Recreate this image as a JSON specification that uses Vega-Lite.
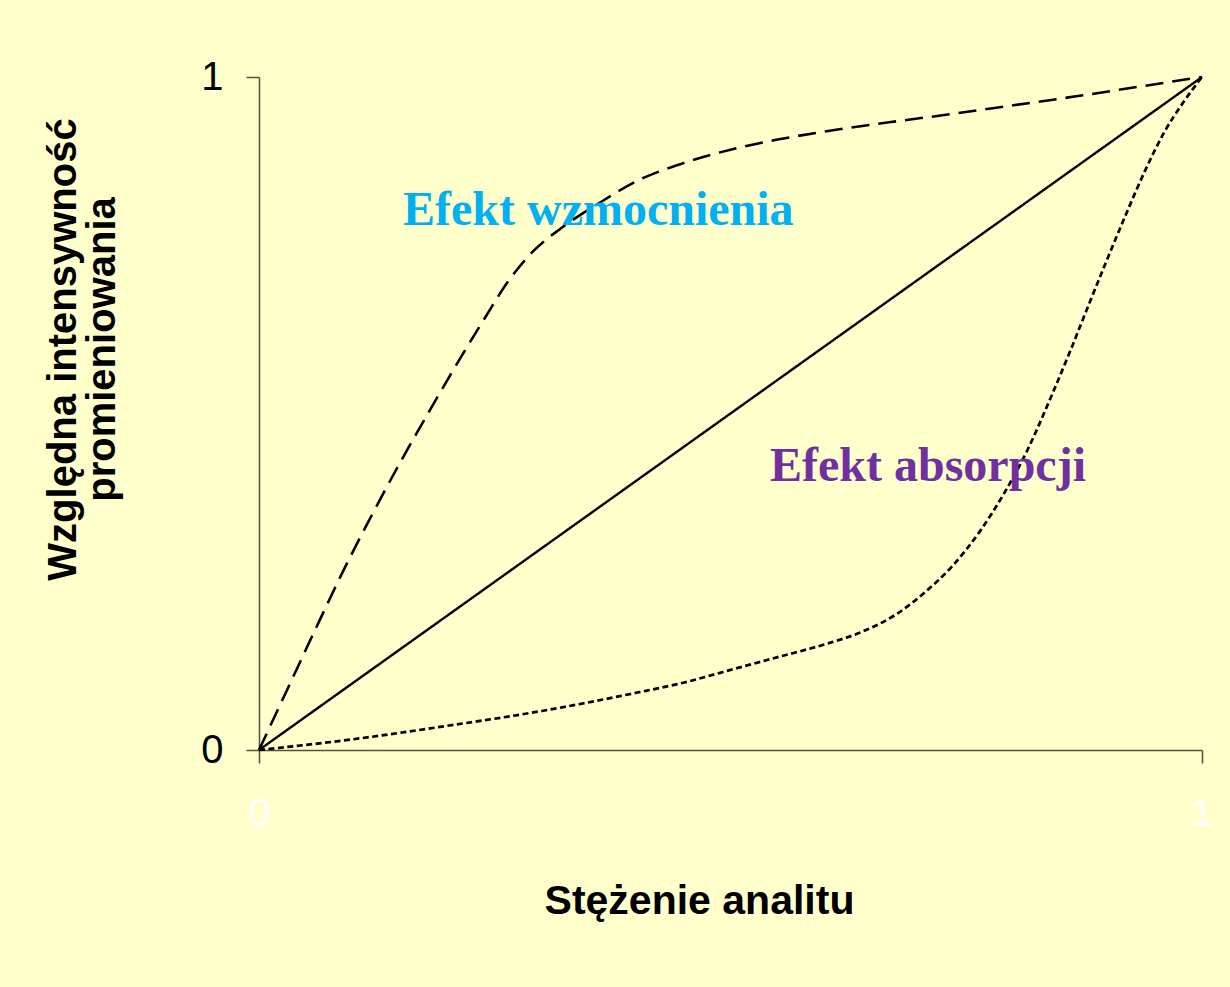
{
  "$schema": "https://vega.github.io/schema/vega-lite/v6.json",
  "width": 943,
  "height": 673,
  "autosize": {"type": "none"},
  "padding": {"left": 259, "top": 77, "right": 28, "bottom": 237},
  "background": "#FFFFCC",
  "config": {"view": {"stroke": null}, "font": "Liberation Sans"},
  "datasets": {
    "curves": [
      {"series": "liniowa", "c": 0, "i": 0},
      {"series": "liniowa", "c": 1, "i": 1},

      {"series": "wzmocnienie", "c": 0, "i": 0},
      {"series": "wzmocnienie", "c": 0.03, "i": 0.090},
      {"series": "wzmocnienie", "c": 0.06, "i": 0.180},
      {"series": "wzmocnienie", "c": 0.09, "i": 0.268},
      {"series": "wzmocnienie", "c": 0.12, "i": 0.350},
      {"series": "wzmocnienie", "c": 0.15, "i": 0.428},
      {"series": "wzmocnienie", "c": 0.18, "i": 0.502},
      {"series": "wzmocnienie", "c": 0.21, "i": 0.574},
      {"series": "wzmocnienie", "c": 0.24, "i": 0.643},
      {"series": "wzmocnienie", "c": 0.265, "i": 0.698},
      {"series": "wzmocnienie", "c": 0.29, "i": 0.740},
      {"series": "wzmocnienie", "c": 0.32, "i": 0.775},
      {"series": "wzmocnienie", "c": 0.36, "i": 0.812},
      {"series": "wzmocnienie", "c": 0.40, "i": 0.845},
      {"series": "wzmocnienie", "c": 0.45, "i": 0.872},
      {"series": "wzmocnienie", "c": 0.50, "i": 0.892},
      {"series": "wzmocnienie", "c": 0.55, "i": 0.907},
      {"series": "wzmocnienie", "c": 0.60, "i": 0.919},
      {"series": "wzmocnienie", "c": 0.67, "i": 0.933},
      {"series": "wzmocnienie", "c": 0.74, "i": 0.946},
      {"series": "wzmocnienie", "c": 0.80, "i": 0.958},
      {"series": "wzmocnienie", "c": 0.87, "i": 0.972},
      {"series": "wzmocnienie", "c": 0.935, "i": 0.986},
      {"series": "wzmocnienie", "c": 1, "i": 1},

      {"series": "absorpcja", "c": 0, "i": 0},
      {"series": "absorpcja", "c": 0.1, "i": 0.016},
      {"series": "absorpcja", "c": 0.2, "i": 0.036},
      {"series": "absorpcja", "c": 0.3, "i": 0.058},
      {"series": "absorpcja", "c": 0.4, "i": 0.085},
      {"series": "absorpcja", "c": 0.45, "i": 0.100},
      {"series": "absorpcja", "c": 0.5, "i": 0.119},
      {"series": "absorpcja", "c": 0.55, "i": 0.138},
      {"series": "absorpcja", "c": 0.6, "i": 0.157},
      {"series": "absorpcja", "c": 0.64, "i": 0.176},
      {"series": "absorpcja", "c": 0.675, "i": 0.201},
      {"series": "absorpcja", "c": 0.705, "i": 0.233},
      {"series": "absorpcja", "c": 0.735, "i": 0.273},
      {"series": "absorpcja", "c": 0.765, "i": 0.326},
      {"series": "absorpcja", "c": 0.79, "i": 0.381},
      {"series": "absorpcja", "c": 0.815, "i": 0.446},
      {"series": "absorpcja", "c": 0.84, "i": 0.525},
      {"series": "absorpcja", "c": 0.86, "i": 0.592},
      {"series": "absorpcja", "c": 0.88, "i": 0.662},
      {"series": "absorpcja", "c": 0.9, "i": 0.731},
      {"series": "absorpcja", "c": 0.92, "i": 0.798},
      {"series": "absorpcja", "c": 0.94, "i": 0.862},
      {"series": "absorpcja", "c": 0.96, "i": 0.918},
      {"series": "absorpcja", "c": 0.98, "i": 0.962},
      {"series": "absorpcja", "c": 1, "i": 1}
    ],
    "notes": [
      {"label": "Efekt wzmocnienia", "c": 0.1527, "i": 0.780},
      {"label": "Efekt absorpcji", "c": 0.5419, "i": 0.3997}
    ]
  },
  "layer": [
    {
      "data": {"name": "curves"},
      "mark": {"type": "line", "interpolate": "monotone", "color": "black"},
      "encoding": {
        "x": {
          "field": "c", "type": "quantitative",
          "scale": {"domain": [0, 1], "nice": false, "zero": false},
          "axis": {
            "values": [0, 1], "grid": false, "format": "d",
            "domainColor": "#50503c", "domainWidth": 1.5,
            "tickColor": "#50503c", "tickWidth": 1.5, "tickSize": 13,
            "labelColor": "white", "labelFontSize": 39, "labelPadding": 31,
            "labelFont": "Liberation Sans", "labelFlush": false,
            "title": "Stężenie analitu",
            "titleFont": "Liberation Sans", "titleFontSize": 41, "titleFontWeight": "bold",
            "titleColor": "black", "titleX": 440, "titleY": 163,
            "titleAlign": "center", "titleBaseline": "alphabetic"
          }
        },
        "y": {
          "field": "i", "type": "quantitative",
          "scale": {"domain": [0, 1], "nice": false, "zero": false},
          "axis": {
            "values": [0, 1], "grid": false, "format": "d",
            "domainColor": "#50503c", "domainWidth": 1.5,
            "tickColor": "#50503c", "tickWidth": 1.5, "tickSize": 13,
            "labelColor": "black", "labelFontSize": 40, "labelPadding": 23,
            "labelFont": "Liberation Sans", "labelFlush": false,
            "title": ["Względna intensywność", "promieniowania"],
            "titleFont": "Liberation Sans", "titleFontSize": 40, "titleFontWeight": "bold",
            "titleLineHeight": 39, "titleColor": "black",
            "titleAngle": -90, "titleX": -184, "titleY": 272,
            "titleAlign": "center", "titleBaseline": "alphabetic"
          }
        },
        "detail": {"field": "series"},
        "strokeDash": {
          "field": "series", "type": "nominal",
          "scale": {"domain": ["liniowa", "wzmocnienie", "absorpcja"], "range": [[1, 0], [18, 9], [6, 3.5]]},
          "legend": null
        },
        "strokeWidth": {
          "field": "series", "type": "nominal",
          "scale": {"domain": ["liniowa", "wzmocnienie", "absorpcja"], "range": [2.4, 2.7, 2.7]},
          "legend": null
        }
      }
    },
    {
      "data": {"name": "notes"},
      "mark": {"type": "text", "font": "Liberation Serif", "fontWeight": "bold", "fontSize": 48, "align": "left", "baseline": "alphabetic"},
      "encoding": {
        "x": {"field": "c", "type": "quantitative"},
        "y": {"field": "i", "type": "quantitative"},
        "text": {"field": "label"},
        "color": {
          "field": "label", "type": "nominal",
          "scale": {"domain": ["Efekt wzmocnienia", "Efekt absorpcji"], "range": ["#00B0F0", "#7030A0"]},
          "legend": null
        }
      }
    }
  ]
}
